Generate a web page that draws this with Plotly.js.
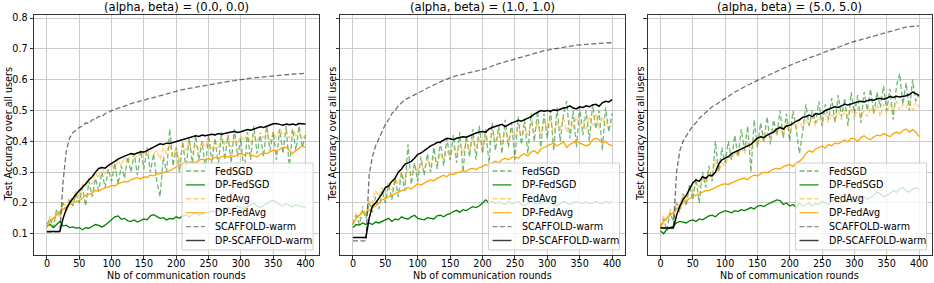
<!DOCTYPE html>
<html>
<head>
<meta charset="utf-8">
<script src="https://cdn.plot.ly/plotly-3.0.1.min.js"></script>
<style>html,body{margin:0;padding:0;background:#fff;}#chart{width:934px;height:283px;}</style>
</head>
<body>
<div id="chart"></div>
<script>
// ---------- DATA ----------
const rounds = [0,5,10,15,20,25,30,35,40,45,50,55,60,65,70,75,80,85,90,95,100,105,110,115,120,125,130,135,140,145,150,155,160,165,170,175,180,185,190,195,200,205,210,215,220,225,230,235,240,245,250,255,260,265,270,275,280,285,290,295,300,305,310,315,320,325,330,335,340,345,350,355,360,365,370,375,380,385,390,395,400];
const seriesNames = ["FedSGD","DP-FedSGD","FedAvg","DP-FedAvg","SCAFFOLD-warm","DP-SCAFFOLD-warm"];
const panelTitles = ["(alpha, beta) = (0.0, 0.0)","(alpha, beta) = (1.0, 1.0)","(alpha, beta) = (5.0, 5.0)"];
const xTickVals = [0,50,100,150,200,250,300,350,400];
const yTickVals = [0.1,0.2,0.3,0.4,0.5,0.6,0.7,0.8];
const yTickText = ["0.1","0.2","0.3","0.4","0.5","0.6","0.7","0.8"];
const xLabel = "Nb of communication rounds";
const yLabel = "Test Accuracy over all users";

// panel 1: (alpha, beta) = (0.0, 0.0)
const fedsgd_00 = [0.13,0.15,0.12,0.18,0.16,0.20,0.17,0.21,0.19,0.23,
0.20,0.25,0.19,0.27,0.22,0.28,0.24,0.30,0.25,0.31,
0.27,0.33,0.26,0.32,0.28,0.35,0.30,0.36,0.29,0.37,
0.31,0.38,0.30,0.36,0.27,0.22,0.35,0.30,0.44,0.32,
0.38,0.30,0.40,0.31,0.41,0.33,0.42,0.34,0.40,0.31,
0.42,0.33,0.41,0.32,0.43,0.34,0.42,0.33,0.44,0.35,
0.41,0.29,0.43,0.34,0.45,0.36,0.42,0.35,0.45,0.37,
0.43,0.34,0.44,0.36,0.45,0.31,0.44,0.37,0.45,0.38,
0.42];
const dpfedsgd_00 = [0.125,0.13,0.12,0.13,0.14,0.125,0.128,0.12,0.122,0.118,
0.12,0.113,0.12,0.118,0.125,0.13,0.127,0.122,0.128,0.138,
0.145,0.155,0.158,0.147,0.15,0.142,0.14,0.145,0.138,0.142,
0.148,0.145,0.158,0.162,0.155,0.15,0.152,0.145,0.15,0.148,
0.155,0.15,0.158,0.16,0.155,0.163,0.168,0.16,0.165,0.17,
0.168,0.175,0.17,0.178,0.172,0.18,0.185,0.178,0.182,0.19,
0.185,0.18,0.188,0.195,0.2,0.19,0.185,0.192,0.198,0.205,
0.208,0.2,0.195,0.19,0.198,0.192,0.187,0.195,0.19,0.188,
0.186];
const fedavg_00 = [0.12,0.16,0.14,0.17,0.15,0.20,0.19,0.22,0.21,0.24,
0.22,0.26,0.25,0.28,0.26,0.30,0.28,0.32,0.29,0.31,
0.33,0.30,0.34,0.32,0.35,0.33,0.36,0.34,0.365,0.35,
0.37,0.35,0.38,0.36,0.37,0.34,0.38,0.36,0.39,0.35,
0.38,0.33,0.39,0.37,0.40,0.36,0.39,0.37,0.40,0.38,
0.41,0.37,0.40,0.38,0.41,0.39,0.42,0.38,0.41,0.39,
0.42,0.40,0.43,0.39,0.42,0.40,0.43,0.41,0.44,0.40,
0.43,0.41,0.44,0.42,0.43,0.41,0.44,0.42,0.43,0.41,
0.42];
const dpfedavg_00 = [0.12,0.14,0.15,0.16,0.17,0.18,0.186,0.195,0.203,0.205,
0.208,0.215,0.224,0.228,0.232,0.241,0.238,0.245,0.248,0.252,
0.257,0.255,0.262,0.266,0.27,0.268,0.275,0.279,0.282,0.278,
0.285,0.283,0.29,0.288,0.293,0.295,0.298,0.302,0.305,0.31,
0.316,0.322,0.33,0.326,0.332,0.335,0.33,0.338,0.342,0.34,
0.344,0.34,0.348,0.345,0.35,0.352,0.348,0.355,0.35,0.358,
0.36,0.355,0.362,0.358,0.352,0.35,0.358,0.362,0.36,0.366,
0.371,0.368,0.375,0.38,0.381,0.37,0.36,0.37,0.378,0.385,
0.38];
const scaffold_00 = [0.105,0.105,0.105,0.105,0.107,0.27,0.37,0.41,0.428,0.436,
0.445,0.449,0.460,0.458,0.470,0.471,0.481,0.480,0.490,0.493,
0.500,0.503,0.508,0.510,0.515,0.518,0.522,0.524,0.528,0.531,
0.534,0.537,0.540,0.543,0.546,0.549,0.552,0.555,0.558,0.561,
0.564,0.566,0.568,0.570,0.572,0.574,0.576,0.578,0.580,0.582,
0.584,0.586,0.587,0.589,0.591,0.592,0.594,0.596,0.597,0.599,
0.601,0.602,0.603,0.605,0.606,0.607,0.609,0.610,0.611,0.612,
0.614,0.615,0.616,0.617,0.617,0.618,0.619,0.619,0.620,0.620,
0.621];
const dpscaffold_00 = [0.107,0.107,0.107,0.107,0.107,0.15,0.18,0.20,0.215,0.228,
0.24,0.25,0.262,0.275,0.285,0.30,0.312,0.315,0.313,0.322,
0.33,0.335,0.342,0.348,0.352,0.356,0.36,0.358,0.363,0.366,
0.365,0.37,0.375,0.38,0.386,0.392,0.39,0.394,0.393,0.396,
0.398,0.402,0.405,0.408,0.41,0.414,0.418,0.416,0.42,0.418,
0.42,0.423,0.421,0.425,0.423,0.426,0.428,0.43,0.432,0.429,
0.431,0.435,0.438,0.436,0.44,0.443,0.447,0.445,0.45,0.453,
0.457,0.458,0.455,0.452,0.456,0.454,0.456,0.453,0.458,0.457,
0.456];

// panel 2: (alpha, beta) = (1.0, 1.0)
const fedsgd_11 = [0.13,0.16,0.13,0.18,0.15,0.20,0.17,0.22,0.18,0.24,
0.20,0.26,0.21,0.28,0.22,0.30,0.24,0.39,0.26,0.33,
0.27,0.35,0.29,0.36,0.30,0.38,0.31,0.40,0.32,0.41,
0.34,0.42,0.33,0.43,0.30,0.42,0.35,0.44,0.34,0.45,
0.36,0.44,0.33,0.46,0.37,0.45,0.36,0.47,0.38,0.46,
0.34,0.48,0.39,0.47,0.36,0.49,0.40,0.50,0.38,0.49,
0.41,0.50,0.37,0.51,0.40,0.49,0.53,0.41,0.50,0.38,
0.51,0.42,0.50,0.40,0.52,0.44,0.50,0.37,0.51,0.43,
0.49];
const dpfedsgd_11 = [0.12,0.13,0.128,0.135,0.13,0.135,0.13,0.138,0.135,0.14,
0.145,0.15,0.14,0.148,0.145,0.155,0.15,0.148,0.155,0.16,
0.15,0.148,0.145,0.152,0.15,0.148,0.158,0.16,0.155,0.162,
0.165,0.172,0.176,0.17,0.178,0.175,0.182,0.188,0.185,0.19,
0.2,0.21,0.2,0.205,0.198,0.203,0.2,0.195,0.205,0.198,
0.2,0.205,0.195,0.19,0.198,0.205,0.2,0.195,0.2,0.205,
0.21,0.2,0.195,0.19,0.198,0.205,0.2,0.195,0.2,0.205,
0.2,0.198,0.203,0.198,0.2,0.205,0.2,0.198,0.205,0.2,
0.205];
const fedavg_11 = [0.13,0.17,0.15,0.19,0.16,0.21,0.20,0.24,0.22,0.25,
0.23,0.27,0.24,0.28,0.26,0.30,0.27,0.31,0.29,0.32,
0.30,0.33,0.31,0.34,0.32,0.35,0.33,0.36,0.34,0.37,
0.35,0.38,0.36,0.39,0.36,0.40,0.37,0.41,0.38,0.41,
0.37,0.42,0.39,0.43,0.40,0.43,0.39,0.44,0.40,0.44,
0.41,0.45,0.42,0.45,0.42,0.46,0.43,0.46,0.42,0.47,
0.44,0.47,0.43,0.46,0.44,0.48,0.43,0.47,0.44,0.48,
0.45,0.47,0.44,0.48,0.45,0.49,0.44,0.48,0.45,0.47,
0.46];
const dpfedavg_11 = [0.13,0.15,0.16,0.17,0.165,0.175,0.185,0.19,0.2,0.21,
0.215,0.22,0.225,0.23,0.235,0.24,0.242,0.25,0.245,0.255,
0.262,0.258,0.265,0.27,0.275,0.272,0.28,0.285,0.29,0.285,
0.295,0.292,0.298,0.3,0.305,0.302,0.31,0.312,0.308,0.315,
0.318,0.325,0.32,0.33,0.335,0.33,0.34,0.345,0.34,0.348,
0.35,0.345,0.355,0.36,0.352,0.365,0.37,0.36,0.375,0.38,
0.385,0.39,0.395,0.385,0.392,0.398,0.38,0.39,0.395,0.4,
0.395,0.39,0.385,0.39,0.405,0.41,0.405,0.395,0.4,0.39,
0.385];
const scaffold_11 = [0.077,0.077,0.077,0.077,0.077,0.29,0.35,0.385,0.41,0.435,
0.455,0.47,0.49,0.50,0.515,0.525,0.535,0.54,0.545,0.55,
0.555,0.56,0.567,0.573,0.578,0.583,0.59,0.595,0.598,0.602,
0.606,0.61,0.613,0.615,0.618,0.62,0.624,0.627,0.628,0.63,
0.632,0.636,0.64,0.645,0.648,0.652,0.655,0.658,0.662,0.666,
0.669,0.672,0.675,0.678,0.681,0.684,0.687,0.689,0.692,0.694,
0.696,0.698,0.7,0.702,0.704,0.706,0.708,0.71,0.711,0.712,
0.713,0.714,0.715,0.716,0.717,0.718,0.718,0.719,0.719,0.72,
0.72];
const dpscaffold_11 = [0.088,0.088,0.088,0.088,0.088,0.15,0.19,0.2,0.215,0.23,
0.25,0.255,0.27,0.28,0.30,0.31,0.325,0.33,0.335,0.345,
0.358,0.362,0.37,0.375,0.385,0.39,0.396,0.398,0.404,0.41,
0.408,0.405,0.41,0.412,0.415,0.413,0.418,0.424,0.427,0.43,
0.432,0.43,0.44,0.445,0.448,0.45,0.455,0.448,0.455,0.46,
0.463,0.468,0.465,0.47,0.476,0.48,0.488,0.495,0.5,0.498,
0.5,0.498,0.502,0.5,0.505,0.508,0.51,0.515,0.508,0.505,
0.512,0.51,0.515,0.512,0.518,0.52,0.514,0.525,0.53,0.528,
0.535];

// panel 3: (alpha, beta) = (5.0, 5.0)
const fedsgd_55 = [0.12,0.15,0.11,0.17,0.14,0.20,0.17,0.23,0.19,0.26,
0.21,0.28,0.20,0.30,0.25,0.32,0.27,0.40,0.30,0.38,
0.33,0.40,0.34,0.42,0.35,0.44,0.37,0.45,0.30,0.47,
0.38,0.46,0.40,0.48,0.39,0.47,0.42,0.50,0.41,0.49,
0.40,0.50,0.44,0.36,0.43,0.52,0.45,0.50,0.46,0.53,
0.45,0.52,0.47,0.54,0.46,0.55,0.48,0.54,0.45,0.56,
0.49,0.55,0.46,0.56,0.50,0.57,0.49,0.56,0.51,0.58,
0.50,0.57,0.47,0.58,0.62,0.52,0.59,0.50,0.60,0.53,
0.55];
const dpfedsgd_55 = [0.11,0.1,0.115,0.12,0.125,0.135,0.14,0.138,0.135,0.142,
0.145,0.14,0.148,0.145,0.152,0.158,0.16,0.155,0.165,0.17,
0.175,0.172,0.168,0.175,0.172,0.178,0.175,0.18,0.185,0.18,
0.19,0.192,0.188,0.195,0.2,0.205,0.21,0.208,0.195,0.2,
0.19,0.195,0.185,0.2,0.19,0.195,0.2,0.19,0.198,0.195,
0.205,0.2,0.195,0.205,0.21,0.205,0.2,0.21,0.205,0.215,
0.21,0.205,0.215,0.22,0.212,0.218,0.225,0.235,0.23,0.22,
0.225,0.23,0.24,0.235,0.245,0.25,0.24,0.235,0.245,0.25,
0.245];
const fedavg_55 = [0.12,0.16,0.14,0.18,0.16,0.20,0.19,0.23,0.21,0.25,
0.23,0.27,0.25,0.28,0.27,0.30,0.28,0.34,0.30,0.33,
0.32,0.35,0.34,0.37,0.35,0.38,0.36,0.40,0.37,0.41,
0.39,0.42,0.40,0.43,0.41,0.44,0.42,0.45,0.42,0.46,
0.43,0.46,0.44,0.47,0.44,0.47,0.45,0.48,0.45,0.48,
0.46,0.49,0.46,0.49,0.47,0.50,0.47,0.50,0.48,0.51,
0.47,0.51,0.48,0.50,0.48,0.51,0.49,0.52,0.48,0.52,
0.49,0.52,0.50,0.53,0.50,0.52,0.51,0.53,0.50,0.53,
0.51];
const dpfedavg_55 = [0.12,0.14,0.15,0.16,0.17,0.18,0.19,0.2,0.205,0.215,
0.22,0.225,0.23,0.235,0.24,0.24,0.245,0.25,0.255,0.26,
0.262,0.26,0.265,0.27,0.275,0.278,0.28,0.275,0.285,0.29,
0.288,0.295,0.3,0.298,0.305,0.31,0.312,0.31,0.318,0.322,
0.325,0.318,0.33,0.335,0.345,0.36,0.37,0.365,0.375,0.38,
0.385,0.378,0.39,0.385,0.395,0.392,0.4,0.405,0.398,0.41,
0.408,0.4,0.412,0.418,0.41,0.405,0.415,0.42,0.418,0.425,
0.42,0.415,0.425,0.43,0.425,0.435,0.44,0.43,0.438,0.43,
0.415];
const scaffold_55 = [0.119,0.119,0.119,0.119,0.119,0.30,0.37,0.40,0.42,0.435,
0.45,0.46,0.475,0.485,0.495,0.505,0.512,0.518,0.525,0.532,
0.54,0.545,0.552,0.56,0.565,0.572,0.577,0.582,0.588,0.593,
0.598,0.603,0.608,0.613,0.618,0.622,0.628,0.633,0.638,0.643,
0.647,0.651,0.655,0.659,0.663,0.667,0.671,0.675,0.679,0.683,
0.687,0.691,0.695,0.699,0.703,0.706,0.71,0.714,0.717,0.721,
0.724,0.727,0.73,0.734,0.737,0.74,0.743,0.746,0.749,0.752,
0.755,0.758,0.761,0.764,0.767,0.769,0.771,0.772,0.773,0.774,
0.775];
const dpscaffold_55 = [0.119,0.119,0.119,0.119,0.119,0.16,0.19,0.21,0.225,0.245,
0.265,0.275,0.27,0.285,0.28,0.29,0.288,0.30,0.325,0.34,
0.345,0.35,0.36,0.365,0.37,0.375,0.38,0.385,0.39,0.40,
0.41,0.415,0.412,0.42,0.425,0.43,0.44,0.445,0.44,0.45,
0.452,0.46,0.465,0.47,0.478,0.48,0.485,0.48,0.49,0.488,
0.492,0.5,0.505,0.508,0.512,0.51,0.515,0.52,0.518,0.522,
0.525,0.528,0.53,0.528,0.532,0.535,0.533,0.538,0.54,0.537,
0.54,0.545,0.542,0.546,0.544,0.545,0.548,0.552,0.56,0.555,
0.548];

// ---------- STYLE / LAYOUT ----------
const panels = [
  [fedsgd_00, dpfedsgd_00, fedavg_00, dpfedavg_00, scaffold_00, dpscaffold_00],
  [fedsgd_11, dpfedsgd_11, fedavg_11, dpfedavg_11, scaffold_11, dpscaffold_11],
  [fedsgd_55, dpfedsgd_55, fedavg_55, dpfedavg_55, scaffold_55, dpscaffold_55]
];
const colors = ['rgba(0,128,0,0.55)', '#008000', 'rgba(255,165,0,0.55)', '#FFA500', 'rgba(0,0,0,0.55)', '#000000'];
const legendColors = ['rgba(0,128,0,0.55)', '#2e9a2e', 'rgba(255,165,0,0.55)', '#ffb733', 'rgba(0,0,0,0.45)', '#3a3a3a'];
const dashes = ['5px,2.5px', 'solid', '5px,2.5px', 'solid', '5px,2.5px', 'solid'];

const W = 934, H = 283;
const mL = 34, mR = 2, mT = 15, mB = 28;
const plotW = W - mL - mR, plotH = H - mT - mB;
const frames = [[34, 318.5], [340, 625], [647.5, 932]];
const px2x = p => (p - mL) / plotW;
const py2y = p => (H - mB - p) / plotH;

const FONT = 'DejaVu Sans, Arial, sans-serif';
const traces = [];
panels.forEach((series, pi) => {
  const ax = pi === 0 ? '' : String(pi + 1);
  series.forEach((vals, si) => {
    traces.push({
      type: 'scatter', mode: 'lines',
      x: rounds, y: vals, name: seriesNames[si],
      xaxis: 'x' + ax, yaxis: 'y' + ax,
      line: {color: colors[si], width: si === 5 ? 1.5 : 1.3, dash: dashes[si]},
      showlegend: false, hoverinfo: 'skip'
    });
  });
});

const layout = {
  width: W, height: H,
  margin: {l: mL, r: mR, t: mT, b: mB, pad: 0},
  paper_bgcolor: '#fff', plot_bgcolor: '#fff',
  font: {family: FONT, size: 9.6, color: '#000'},
  showlegend: false,
  shapes: [], annotations: []
};

frames.forEach((f, pi) => {
  const ax = pi === 0 ? '' : String(pi + 1);
  const dom = [px2x(f[0]), Math.min(1, px2x(f[1]))];
  layout['xaxis' + ax] = {
    domain: dom, anchor: 'y' + ax, range: [-20, 420],
    tickvals: xTickVals, ticks: 'outside', ticklen: 3.5, tickwidth: 1, tickcolor: '#333',
    ticklabelstandoff: -4,
    showgrid: true, gridcolor: '#cccccc', gridwidth: 1, zeroline: false,
    showline: true, mirror: true, linecolor: '#333', linewidth: 1,
    tickfont: {family: FONT, size: 9.6, color: '#000'}
  };
  layout['yaxis' + ax] = {
    domain: [0, 1], anchor: 'x' + ax, range: [0.031, 0.810],
    tickvals: yTickVals, ticktext: yTickText, ticks: 'outside', ticklen: 3.5, tickwidth: 1, tickcolor: '#333',
    showticklabels: pi === 0,
    showgrid: true, gridcolor: '#cccccc', gridwidth: 1, zeroline: false,
    showline: true, mirror: true, linecolor: '#333', linewidth: 1,
    tickfont: {family: FONT, size: 9.6, color: '#000'}
  };
  const cx = (f[0] + f[1]) / 2;
  layout.annotations.push({text: panelTitles[pi], xref: 'paper', yref: 'paper', x: px2x(cx), y: py2y(6.8),
    xanchor: 'center', yanchor: 'middle', showarrow: false, font: {family: FONT, size: 11.6, color: '#000'}});
  layout.annotations.push({text: xLabel, xref: 'paper', yref: 'paper', x: px2x(cx), y: py2y(275.5),
    xanchor: 'center', yanchor: 'middle', showarrow: false, font: {family: FONT, size: 9.6, color: '#000'}});
  const ylx = [8, 332.7, 640.5][pi];
  layout.annotations.push({text: yLabel, xref: 'paper', yref: 'paper', x: px2x(ylx), y: py2y(134.5),
    xanchor: 'center', yanchor: 'middle', textangle: -90, showarrow: false, font: {family: FONT, size: 9.6, color: '#000'}});
  const bR = f[1] - 5.5, bL = bR - 131, bT = 163, bB = 250;
  layout.shapes.push({type: 'rect', xref: 'paper', yref: 'paper', layer: 'above',
    x0: px2x(bL), x1: px2x(bR), y0: py2y(bB), y1: py2y(bT),
    fillcolor: 'rgba(255,255,255,0.8)', line: {color: '#d0d0d0', width: 1}});
  seriesNames.forEach((nm, si) => {
    const ry = bT + 8 + si * 13.9;
    layout.shapes.push({type: 'line', xref: 'paper', yref: 'paper', layer: 'above',
      x0: px2x(bL + 4), x1: px2x(bL + 23), y0: py2y(ry), y1: py2y(ry),
      line: {color: legendColors[si], width: 1.4, dash: dashes[si]}});
    layout.annotations.push({text: nm, xref: 'paper', yref: 'paper', x: px2x(bL + 31), y: py2y(ry),
      xanchor: 'left', yanchor: 'middle', showarrow: false, font: {family: FONT, size: 9.6, color: '#000'}});
  });
});

Plotly.newPlot('chart', traces, layout, {displayModeBar: false, staticPlot: true});
</script>
</body>
</html>
